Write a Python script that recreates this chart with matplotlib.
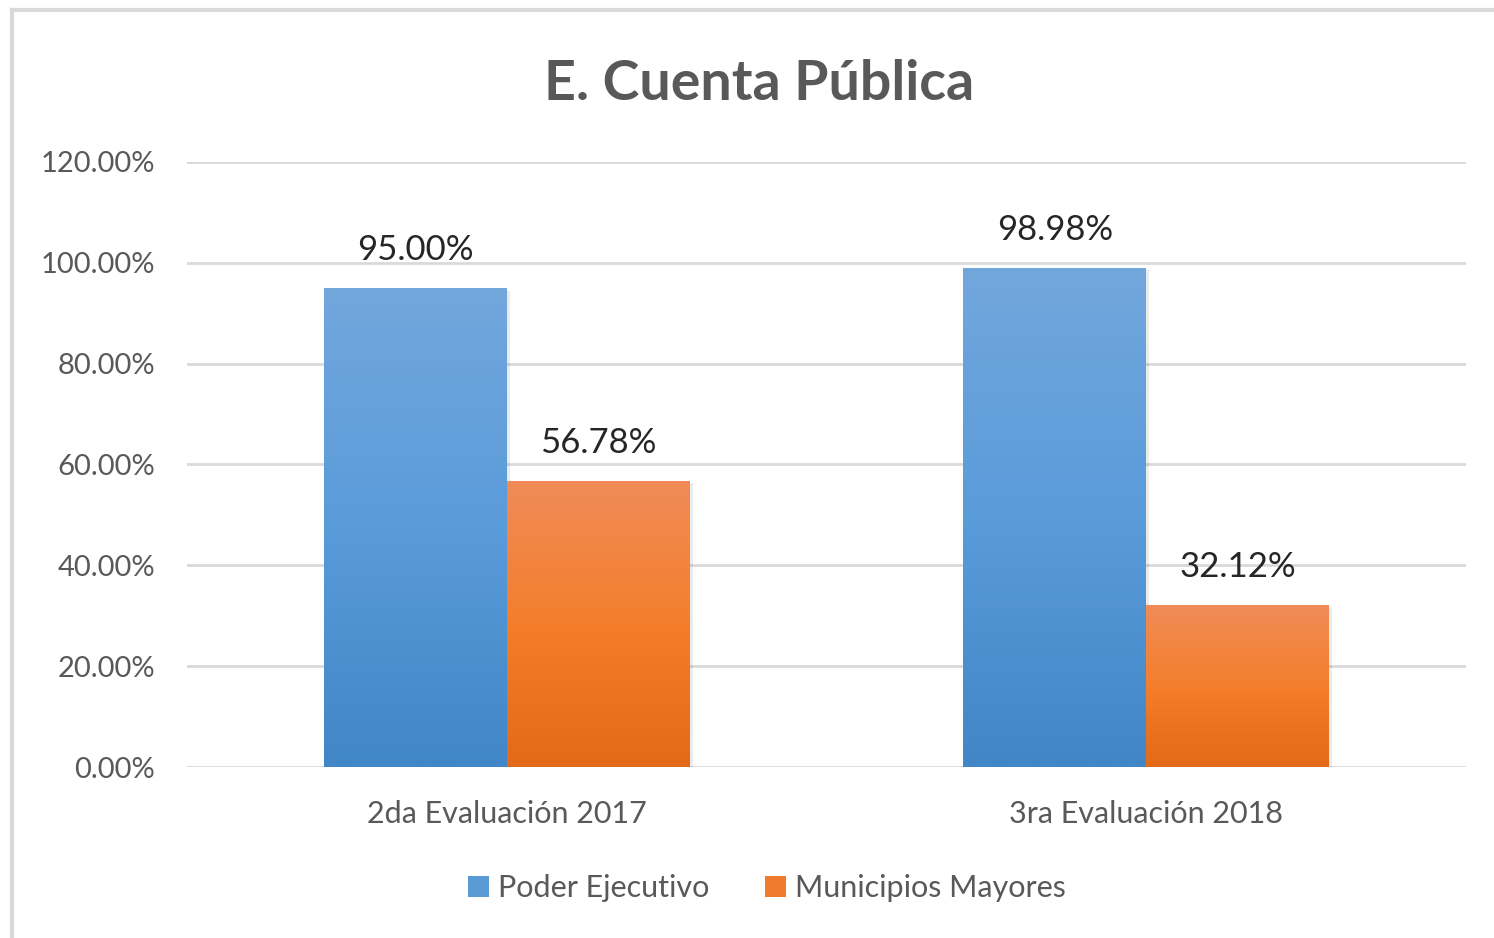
import matplotlib
matplotlib.use("Agg")
import matplotlib.pyplot as plt
import numpy as np
from matplotlib.colors import LinearSegmentedColormap
from matplotlib.lines import Line2D
from matplotlib.patches import Patch

# datos
categorias = ["2da Evaluación 2017", "3ra Evaluación 2018"]
series = ["Poder Ejecutivo", "Municipios Mayores"]
poder_ejecutivo = [95.00, 98.98]
municipios_mayores = [56.78, 32.12]
yticks = [0, 20, 40, 60, 80, 100, 120]

plt.rcParams["font.family"] = ["Lato", "DejaVu Sans"]

GRIS = "#595959"
gradientes = [
    ("#72A7DC", "#5A9BDA", "#4186C7"),
    ("#F08C58", "#F47E2C", "#E26A18"),
]
solidos = ["#5B9BD5", "#F07B2C"]

fig = plt.figure(figsize=(14.94, 9.38), dpi=100)
ax = fig.add_axes([187 / 1494, 171 / 938, 1279 / 1494, 605 / 938])

x = np.arange(len(categorias))
ancho = 0.286
valores = [poder_ejecutivo, municipios_mayores]
offsets = [-ancho / 2, ancho / 2]

ax.set_xlim(-0.5, len(categorias) - 0.5)
ax.set_ylim(0, 120)

for i, (vals, off) in enumerate(zip(valores, offsets)):
    barras = ax.bar(x + off, vals, ancho, color="none", edgecolor="none", zorder=3)
    cmap = LinearSegmentedColormap.from_list(f"g{i}", list(gradientes[i]))
    grad = np.linspace(0, 1, 256).reshape(-1, 1)
    for b, v in zip(barras, vals):
        x0, w, h = b.get_x(), b.get_width(), b.get_height()
        # sombra leve
        ax.bar(x0 + w / 2 + 0.005, h, w, bottom=-0.5, color="#000000", alpha=0.08,
               zorder=2, edgecolor="none")
        im = ax.imshow(grad, extent=[x0, x0 + w, 0, h], cmap=cmap, aspect="auto",
                       origin="upper", zorder=3)
        im.set_clip_path(b)
        ax.text(x0 + w / 2, h + 4.3, f"{v:.2f}%", ha="center", va="bottom",
                fontsize=25, color="#262626", zorder=4)

ax.set_xlim(-0.5, len(categorias) - 0.5)
ax.set_ylim(0, 120)

ax.set_yticks(yticks)
ax.set_yticklabels([f"{t:.2f}%" for t in yticks], fontsize=21, color=GRIS)
ax.set_xticks(x)
ax.set_xticklabels(categorias, fontsize=22, color=GRIS)
ax.tick_params(axis="both", length=0)
ax.tick_params(axis="y", pad=23)
ax.tick_params(axis="x", pad=24)
ax.grid(axis="y", color="#D9D9D9", lw=2, zorder=0)
ax.set_axisbelow(True)
for s in ax.spines.values():
    s.set_visible(False)

fig.text(759 / 1494, 1 - 84 / 938, "E. Cuenta Pública", ha="center", va="center",
         fontsize=40, fontweight="bold", color=GRIS)

handles = [Patch(facecolor=c, edgecolor="none") for c in solidos]
fig.legend(handles, series, loc="center", bbox_to_anchor=(767 / 1494, 1 - 888 / 938),
           ncol=2, frameon=False, fontsize=22, labelcolor=GRIS, handlelength=0.7,
           handleheight=0.7, handletextpad=0.3, columnspacing=1.8)

# marco del gráfico
fig.add_artist(Line2D([12 / 1494, 12 / 1494], [0, 1 - 10 / 938], color="#D9D9D9", lw=3,
                      transform=fig.transFigure))
fig.add_artist(Line2D([12 / 1494, 1], [1 - 10 / 938, 1 - 10 / 938], color="#D9D9D9", lw=3,
                      transform=fig.transFigure))

fig.savefig("out.png", dpi=100)
